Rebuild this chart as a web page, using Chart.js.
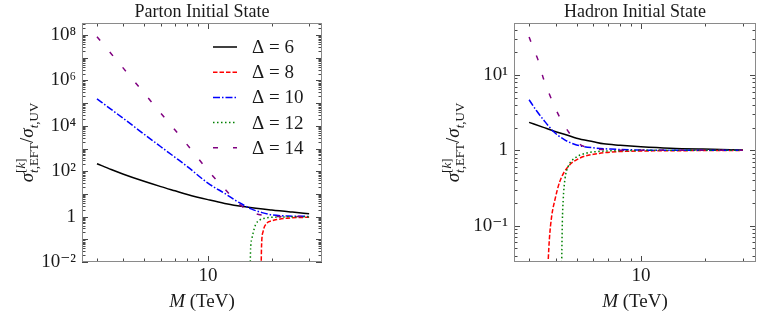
<!DOCTYPE html>
<html>
<head>
<meta charset="utf-8">
<script src="https://cdn.jsdelivr.net/npm/chart.js@4.4.0/dist/chart.umd.min.js"></script>
<style>
  html, body { margin: 0; padding: 0; background: #fff; }
  #wrap { position: relative; width: 762px; height: 319px; }
  #wrap canvas { position: absolute; top: 0; }
  #left { left: 0; }
  #right { left: 381px; }
</style>
</head>
<body>
<div id="wrap">
  <canvas id="left" width="381" height="319"></canvas>
  <canvas id="right" width="381" height="319"></canvas>
</div>
<script>
/* EFT / UV cross-section ratio vs mediator mass M */

// ---- parton initial state ----
const partonM6  = [3, 3.5, 4, 5, 6, 7, 8, 10, 12, 15, 20, 25, 30];
const partonR6  = [214, 119, 74, 36, 21, 13.7, 9.5, 5.6, 3.8, 2.7, 1.95, 1.58, 1.35];
const partonM8  = [17.8, 17.9, 18.2, 18.9, 20, 21.1, 24.4, 30];
const partonR8  = [0.003, 0.05, 0.22, 0.5, 0.65, 0.74, 0.87, 0.94];
const partonM10 = [3, 3.5, 4, 5, 6, 7, 8, 10, 12, 14, 16, 18, 20, 25, 30];
const partonR10 = [1.55e5, 5.3e4, 2.1e4, 4300, 1200, 410, 160, 30, 10.5, 4.2, 2.2, 1.5, 1.2, 1.05, 1.02];
const partonM12 = [15.8, 15.9, 16.1, 16.4, 16.8, 17.6, 18.9, 21, 25, 30];
const partonR12 = [0.003, 0.04, 0.1, 0.22, 0.45, 0.72, 0.88, 0.95, 0.98, 0.99];
const partonM14 = [3, 3.5, 4, 5, 6, 7, 8, 10, 12, 14, 16, 18, 20, 25, 30];
const partonR14 = [8.5e7, 1.5e7, 3.4e6, 2.8e5, 3.6e4, 6500, 1450, 110, 16.5, 3.7, 1.6, 1.17, 1.05, 1.0, 1.0];

// ---- hadron initial state ----
const hadronM6  = [3, 3.5, 3.9, 4.5, 5, 6, 6.7, 8, 10, 13.7, 19.5, 30];
const hadronR6  = [2.35, 2.02, 1.81, 1.6, 1.45, 1.3, 1.22, 1.17, 1.12, 1.07, 1.04, 1.015];
const hadronM8  = [3.65, 3.73, 3.82, 3.96, 4.18, 4.57, 5.18, 6.2, 7.7, 10, 15, 30];
const hadronR8  = [0.02, 0.065, 0.13, 0.22, 0.39, 0.61, 0.79, 0.9, 0.96, 0.98, 0.99, 1.0];
const hadronM10 = [3, 3.25, 3.5, 3.9, 4.4, 5, 6.2, 7.2, 10, 15, 30];
const hadronR10 = [4.7, 3.35, 2.55, 1.78, 1.38, 1.18, 1.07, 1.04, 1.01, 1.0, 1.0];
const hadronM12 = [4.25, 4.29, 4.33, 4.41, 4.57, 4.91, 5.57, 6.4, 8, 10, 30];
const hadronR12 = [0.02, 0.11, 0.22, 0.41, 0.61, 0.79, 0.92, 0.97, 0.99, 1.0, 1.0];
const hadronM14 = [3, 3.15, 3.3, 3.5, 3.75, 4, 4.4, 5.1, 6, 7, 10, 30];
const hadronR14 = [32, 22, 16, 9, 5.4, 3.5, 2.1, 1.24, 1.06, 1.02, 1.0, 1.0];

const deltaLabels = ['Δ = 6', 'Δ = 8', 'Δ = 10', 'Δ = 12', 'Δ = 14'];

// axis ranges and tick labels
const xRange = [2.55, 34.5];
const xTickVals = [10];
const xTickLabels = ['10'];
const partonYRange = [0.01, 3.4e8];
const partonYTicks = [1e-2, 1, 1e2, 1e4, 1e6, 1e8];
const partonYLabels = ['10⁻²', '1', '10²', '10⁴', '10⁶', '10⁸'];
const hadronYRange = [0.033, 49];
const hadronYTicks = [0.1, 1, 10];
const hadronYLabels = ['10⁻¹', '1', '10¹'];

const FAM = '"Liberation Serif", "DejaVu Serif", serif';
const INK = '#1a1a1a';

const styles = [
  { color: '#000000', dash: [] },
  { color: '#ff0000', dash: [4.5, 2] },
  { color: '#0000ff', dash: [7, 2, 1.5, 2] },
  { color: '#008000', dash: [1.5, 2.5] },
  { color: '#800080', dash: [5, 15] }
];

function pts(xs, ys) { return xs.map((x, i) => ({ x: x, y: ys[i] })); }

function makeSets(series) {
  return series.map((s, i) => ({
    label: deltaLabels[i],
    data: pts(s[0], s[1]),
    borderColor: styles[i].color,
    borderDash: styles[i].dash,
    borderWidth: 1.5,
    pointRadius: 0,
    fill: false,
    cubicInterpolationMode: 'monotone',
    order: 5 - i
  }));
}

function logMarks(min, max) {
  const out = [];
  for (let e = Math.floor(Math.log10(min)); e <= Math.ceil(Math.log10(max)); e++) {
    for (let k = 1; k < 10; k++) {
      const v = k * Math.pow(10, e);
      if (v >= min * 0.999 && v <= max * 1.001) out.push({ v: v, major: k === 1 });
    }
  }
  return out;
}

// draws a run of (text, italic) pieces along the baseline, returns advance
function run(ctx, pieces, x, y, size) {
  let cx = x;
  pieces.forEach(p => {
    ctx.font = (p.i ? 'italic ' : '') + size + 'px ' + FAM;
    ctx.fillText(p.s, cx, y);
    cx += ctx.measureText(p.s).width;
  });
  return cx - x;
}

function runWidth(ctx, pieces, size) {
  let w = 0;
  pieces.forEach(p => {
    ctx.font = (p.i ? 'italic ' : '') + size + 'px ' + FAM;
    w += ctx.measureText(p.s).width;
  });
  return w;
}

const yTitle = [
  { main: [{ s: 'σ', i: true }] },
  { sup: [{ s: '[' }, { s: 'k', i: true }, { s: ']' }], sub: [{ s: 't', i: true }, { s: ',EFT' }] },
  { main: [{ s: '/' }, { s: 'σ', i: true }] },
  { sub: [{ s: 't', i: true }, { s: ',UV' }] }
];
const xTitle = [{ s: 'M', i: true }, { s: ' (TeV)' }];

function drawYTitle(ctx, bx, cy) {
  const big = 19, small = 13;
  let total = 0;
  yTitle.forEach(g => {
    if (g.main) total += runWidth(ctx, g.main, big);
    else total += Math.max(g.sup ? runWidth(ctx, g.sup, small) : 0, g.sub ? runWidth(ctx, g.sub, small) : 0);
  });
  ctx.save();
  ctx.translate(bx, cy);
  ctx.rotate(-Math.PI / 2);
  ctx.fillStyle = INK;
  ctx.textBaseline = 'alphabetic';
  let x = -total / 2;
  yTitle.forEach(g => {
    if (g.main) { x += run(ctx, g.main, x, 0, big); return; }
    let w1 = 0, w2 = 0;
    if (g.sup) w1 = run(ctx, g.sup, x, -8, small);
    if (g.sub) w2 = run(ctx, g.sub, x, 4.5, small);
    x += Math.max(w1, w2);
  });
  ctx.restore();
}

const axisDecor = {
  id: 'axisDecor',
  afterDatasetsDraw(chart, args, opts) {
    const { ctx, chartArea: a, scales } = chart;
    const xs = scales.x, ys = scales.y;
    ctx.save();
    ctx.strokeStyle = '#333';
    ctx.lineWidth = 0.9;
    ctx.beginPath();
    logMarks(xs.min, xs.max).forEach(t => {
      const p = Math.round(xs.getPixelForValue(t.v)) + 0.5;
      const len = t.major ? 6 : 3.5;
      ctx.moveTo(p, a.bottom); ctx.lineTo(p, a.bottom - len);
      ctx.moveTo(p, a.top); ctx.lineTo(p, a.top + len);
    });
    logMarks(ys.min, ys.max).forEach(t => {
      const p = Math.round(ys.getPixelForValue(t.v)) + 0.5;
      const len = t.major ? 6 : 3.5;
      ctx.moveTo(a.left, p); ctx.lineTo(a.left + len, p);
      ctx.moveTo(a.right, p); ctx.lineTo(a.right - len, p);
    });
    ctx.stroke();
    ctx.strokeStyle = '#8a8a8a';
    ctx.lineWidth = 1;
    ctx.strokeRect(a.left + 0.5, a.top + 0.5, a.right - a.left - 1, a.bottom - a.top - 1);

    // axis titles
    ctx.fillStyle = INK;
    ctx.textBaseline = 'alphabetic';
    const w = runWidth(ctx, xTitle, 19);
    run(ctx, xTitle, (a.left + a.right) / 2 - w / 2, opts.xTitleY, 19);
    drawYTitle(ctx, opts.yTitleX, (a.top + a.bottom) / 2);

    // legend inside the plot
    if (opts.legend) {
      const L = opts.legend;
      chart.data.datasets.forEach((ds, i) => {
        const y = L.y + i * L.gap;
        ctx.strokeStyle = ds.borderColor;
        ctx.lineWidth = ds.borderWidth;
        ctx.setLineDash(ds.borderDash);
        ctx.beginPath();
        ctx.moveTo(L.x, y); ctx.lineTo(L.x + L.len, y);
        ctx.stroke();
        ctx.setLineDash([]);
        ctx.fillStyle = INK;
        ctx.font = L.size + 'px ' + FAM;
        ctx.textBaseline = 'middle';
        ctx.fillText(ds.label, L.textX, y + 1);
      });
    }
    ctx.restore();
  }
};

function buildChart(id, title, sets, yRange, yTicks, yLabels, yWidth, padRight, decor) {
  return new Chart(document.getElementById(id), {
    type: 'line',
    data: { datasets: sets },
    plugins: [axisDecor],
    options: {
      responsive: false,
      animation: false,
      events: [],
      layout: { padding: { left: 0, right: padRight, top: 0, bottom: 0 } },
      plugins: {
        legend: { display: false },
        tooltip: { enabled: false },
        title: {
          display: true, text: title, fullSize: false, color: INK,
          font: { family: FAM, size: 18, weight: 'normal', lineHeight: 1 },
          padding: { top: 3, bottom: 2 }
        },
        axisDecor: decor
      },
      scales: {
        x: {
          type: 'logarithmic', min: xRange[0], max: xRange[1],
          afterFit: s => { s.height = 57; },
          afterBuildTicks: s => { s.ticks = xTickVals.map(v => ({ value: v })); },
          grid: { display: false, drawTicks: false },
          border: { display: false },
          ticks: {
            autoSkip: false, maxRotation: 0, padding: 3, color: INK,
            font: { family: FAM, size: 19 },
            callback: (v, i) => xTickLabels[i]
          }
        },
        y: {
          type: 'logarithmic', min: yRange[0], max: yRange[1],
          afterFit: s => { s.width = yWidth; },
          afterBuildTicks: s => { s.ticks = yTicks.map(v => ({ value: v })); },
          grid: { display: false, drawTicks: false },
          border: { display: false },
          ticks: {
            autoSkip: false, padding: 6, color: INK,
            font: { family: FAM, size: 19 },
            callback: (v, i) => yLabels[i]
          }
        }
      }
    }
  });
}

buildChart('left', 'Parton Initial State',
  makeSets([[partonM6, partonR6], [partonM8, partonR8], [partonM10, partonR10], [partonM12, partonR12], [partonM14, partonR14]]),
  partonYRange, partonYTicks, partonYLabels, 82, 59,
  { xTitleY: 307, yTitleX: 33, legend: { x: 213, len: 24, textX: 252, y: 47, gap: 25.2, size: 19 } });

buildChart('right', 'Hadron Initial State',
  makeSets([[hadronM6, hadronR6], [hadronM8, hadronR8], [hadronM10, hadronR10], [hadronM12, hadronR12], [hadronM14, hadronR14]]),
  hadronYRange, hadronYTicks, hadronYLabels, 133, 6,
  { xTitleY: 307, yTitleX: 78 });
</script>
</body>
</html>
